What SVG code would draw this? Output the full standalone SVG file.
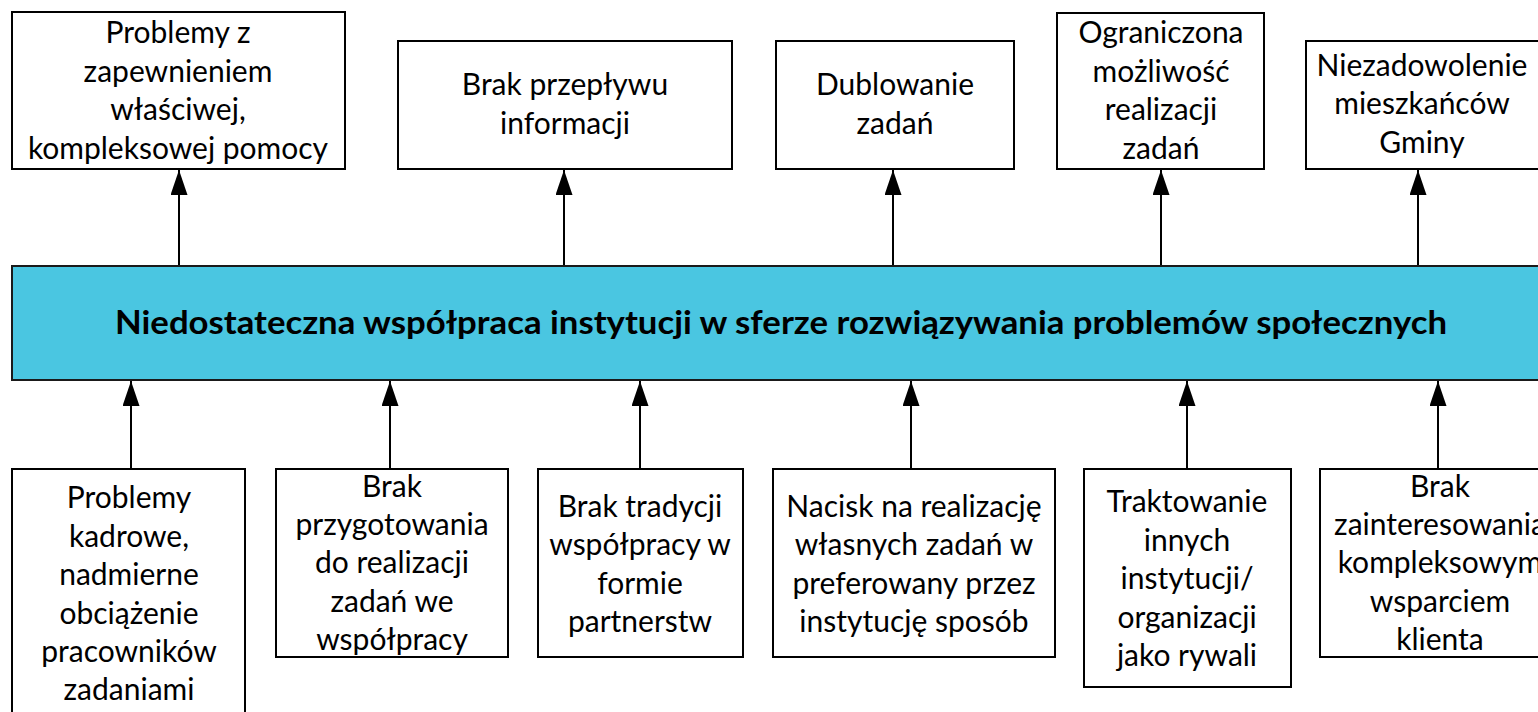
<svg xmlns="http://www.w3.org/2000/svg" width="1538" height="712" viewBox="0 0 1538 712">
<style>
.box{fill:#fff;stroke:#000;stroke-width:2}
.bar{fill:#4AC6E1;stroke:#1a1a1a;stroke-width:2}
.t{font-family:Lato,"Open Sans","Liberation Sans",sans-serif;font-size:30px;fill:#000;text-anchor:middle}
.title{font-family:Lato,"Open Sans","Liberation Sans",sans-serif;font-size:33px;font-weight:bold;fill:#000;text-anchor:middle}
.c{stroke:#000;stroke-width:2;fill:none;marker-end:url(#ah)}
</style>
<defs>
<marker id="ah" markerUnits="userSpaceOnUse" markerWidth="25" markerHeight="17" refX="25" refY="8.5" orient="auto">
<path d="M0,0 L25,8.5 L0,17 z" fill="#000"/>
</marker>
</defs>
<rect width="1538" height="712" fill="#fff"/>
<g id="connectors">
<line class="c" x1="179" y1="266" x2="179" y2="170"/>
<line class="c" x1="564" y1="266" x2="564" y2="170"/>
<line class="c" x1="893" y1="266" x2="893" y2="170"/>
<line class="c" x1="1161" y1="266" x2="1161" y2="170"/>
<line class="c" x1="1418" y1="266" x2="1418" y2="170"/>
<line class="c" x1="131" y1="469" x2="131" y2="381"/>
<line class="c" x1="390" y1="469" x2="390" y2="381"/>
<line class="c" x1="640" y1="469" x2="640" y2="381"/>
<line class="c" x1="911" y1="469" x2="911" y2="381"/>
<line class="c" x1="1187" y1="469" x2="1187" y2="381"/>
<line class="c" x1="1438" y1="469" x2="1438" y2="381"/>
</g>
<g id="main">
<rect class="bar" x="12" y="266" width="1540" height="114"/>
<text class="title" x="781" y="334" textLength="1332" lengthAdjust="spacingAndGlyphs">Niedostateczna współpraca instytucji w sferze rozwiązywania problemów społecznych</text>
</g>
<g id="top1">
<rect class="box" x="12" y="12" width="333" height="157"/>
<text class="t" x="178" y="43">Problemy z</text>
<text class="t" x="178" y="82">zapewnieniem</text>
<text class="t" x="178" y="120">właściwej,</text>
<text class="t" x="178" y="159">kompleksowej pomocy</text>
</g>
<g id="top2">
<rect class="box" x="398" y="41" width="334" height="128"/>
<text class="t" x="565" y="95">Brak przepływu</text>
<text class="t" x="565" y="134">informacji</text>
</g>
<g id="top3">
<rect class="box" x="776" y="41" width="238" height="128"/>
<text class="t" x="895" y="95">Dublowanie</text>
<text class="t" x="895" y="134">zadań</text>
</g>
<g id="top4">
<rect class="box" x="1057" y="13" width="207" height="156"/>
<text class="t" x="1161" y="43">Ograniczona</text>
<text class="t" x="1161" y="82">możliwość</text>
<text class="t" x="1161" y="120">realizacji</text>
<text class="t" x="1161" y="159">zadań</text>
</g>
<g id="top5">
<rect class="box" x="1306" y="41" width="240" height="128"/>
<text class="t" x="1422" y="76">Niezadowolenie</text>
<text class="t" x="1422" y="114">mieszkańców</text>
<text class="t" x="1422" y="153">Gminy</text>
</g>
<g id="bot1">
<rect class="box" x="12" y="469" width="233" height="272"/>
<text class="t" x="129" y="508">Problemy</text>
<text class="t" x="129" y="547">kadrowe,</text>
<text class="t" x="129" y="585">nadmierne</text>
<text class="t" x="129" y="624">obciążenie</text>
<text class="t" x="129" y="662">pracowników</text>
<text class="t" x="129" y="700">zadaniami</text>
</g>
<g id="bot2">
<rect class="box" x="276" y="469" width="232" height="188"/>
<text class="t" x="392" y="497">Brak</text>
<text class="t" x="392" y="535">przygotowania</text>
<text class="t" x="392" y="573">do realizacji</text>
<text class="t" x="392" y="612">zadań we</text>
<text class="t" x="392" y="650">współpracy</text>
</g>
<g id="bot3">
<rect class="box" x="538" y="469" width="205" height="188"/>
<text class="t" x="640" y="517">Brak tradycji</text>
<text class="t" x="640" y="555">współpracy w</text>
<text class="t" x="640" y="594">formie</text>
<text class="t" x="640" y="632">partnerstw</text>
</g>
<g id="bot4">
<rect class="box" x="773" y="469" width="282" height="188"/>
<text class="t" x="914" y="517">Nacisk na realizację</text>
<text class="t" x="914" y="555">własnych zadań w</text>
<text class="t" x="914" y="594">preferowany przez</text>
<text class="t" x="914" y="632">instytucję sposób</text>
</g>
<g id="bot5">
<rect class="box" x="1084" y="469" width="207" height="218"/>
<text class="t" x="1187" y="512">Traktowanie</text>
<text class="t" x="1187" y="551">innych</text>
<text class="t" x="1187" y="589">instytucji/</text>
<text class="t" x="1187" y="628">organizacji</text>
<text class="t" x="1187" y="666">jako rywali</text>
</g>
<g id="bot6">
<rect class="box" x="1320" y="469" width="240" height="188"/>
<text class="t" x="1440" y="497">Brak</text>
<text class="t" x="1440" y="535">zainteresowania</text>
<text class="t" x="1440" y="573">kompleksowym</text>
<text class="t" x="1440" y="612">wsparciem</text>
<text class="t" x="1440" y="650">klienta</text>
</g>
</svg>
